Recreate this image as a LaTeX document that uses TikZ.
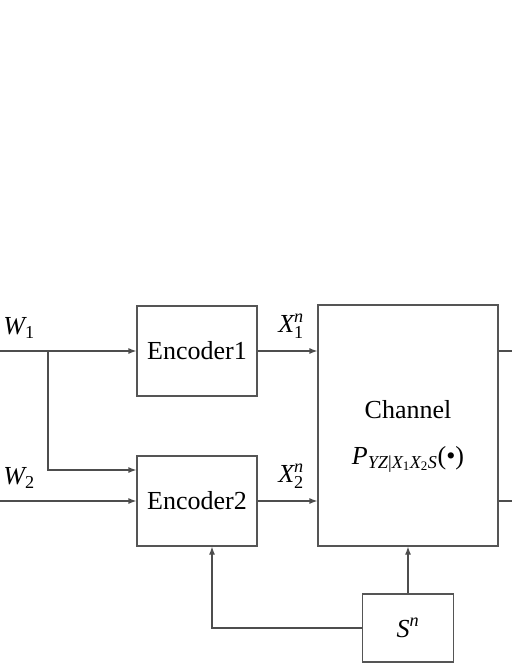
\documentclass[tikz,border=0pt]{standalone}
\usepackage{amsmath}
\usepackage{fontspec}
\setmainfont{Liberation Serif}
\usetikzlibrary{arrows.meta,positioning,calc}
\definecolor{LineGray}{HTML}{4D4D4D}
\definecolor{BoxGray}{HTML}{555555}
\newcommand{\vi}[1]{\textit{#1}}

\begin{document}
\begin{tikzpicture}[x=1pt,y=-1pt,
  blockbox/.style={draw=BoxGray,line width=1.2pt,fill=white,inner sep=0pt,font=\fontsize{26}{30}\selectfont},
  arr/.style={draw=LineGray,line width=1.2pt,-{Latex[length=8pt,width=6pt]}},
  plain/.style={draw=LineGray,line width=1.2pt},
  lbl/.style={inner sep=0pt,font=\fontsize{26}{30}\selectfont}]
\path[use as bounding box] (0,0) rectangle (512,663);
% blocks
\node[blockbox,minimum width=120pt,minimum height=90pt] (enc1) at (197,351) {Encoder1};
\node[blockbox,minimum width=120pt,minimum height=90pt] (enc2) at (197,501) {Encoder2};
\node[blockbox,minimum width=180pt,minimum height=241pt] (chan) at (408,425.5) {};
\node[blockbox,minimum width=91pt,minimum height=68pt] (sn) at (408,628) {$\vi{S}^{\vi{n}}$};
\node[lbl] (chname) at (408,410) {Channel};
\node[lbl] (chfun) at (408,459) {$\vi{P}_{\vi{YZ}\text{|}\vi{X}_{\text{1}}\vi{X}_{\text{2}}\vi{S}}\text{(\textbullet)}$};
% end points
\coordinate (w1) at (0,351);
\coordinate (w2) at (0,501);
\coordinate (br) at (48,351);
\coordinate (b2) at (48,470);
\coordinate (o1) at (512,351);
\coordinate (o2) at (512,501);
% labels
\node[lbl] (lw1) at (19,328) {$\vi{W}_{\text{1}}$};
\node[lbl] (lw2) at (19,478) {$\vi{W}_{\text{2}}$};
\node[lbl] (lx1) at (291,326) {$\vi{X}_{\text{1}}^{\vi{n}}$};
\node[lbl] (lx2) at (291,476) {$\vi{X}_{\text{2}}^{\vi{n}}$};
% connectors
\draw[arr] (w1) -- (enc1);
\draw[arr] (w2) -- (enc2);
\draw[arr] (br) -- (b2) -- (enc2.west |- b2);
\draw[arr] (enc1) -- (chan.west |- enc1);
\draw[arr] (enc2) -- (chan.west |- enc2);
\draw[plain] (chan.east |- o1) -- (o1);
\draw[plain] (chan.east |- o2) -- (o2);
\draw[arr] (sn) -- (chan);
\draw[arr] (sn.west) -| ([xshift=15pt]enc2.south);
\end{tikzpicture}
\end{document}
